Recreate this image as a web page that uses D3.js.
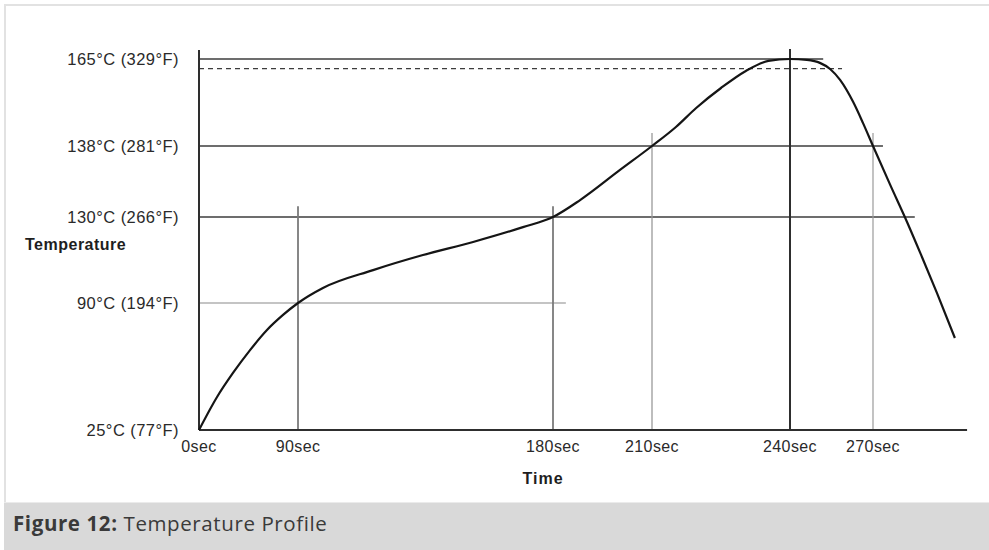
<!DOCTYPE html>
<html>
<head>
<meta charset="utf-8">
<script src="https://cdn.jsdelivr.net/npm/d3@7"></script>
<style>
  html, body { margin: 0; padding: 0; background: #ffffff; }
  svg { display: block; }
</style>
</head>
<body>
<svg id="chart" width="989" height="550"></svg>
<script>
// ---- data ----
const timeTicks = [0, 90, 180, 210, 240, 270];
const timeLabels = ["0sec", "90sec", "180sec", "210sec", "240sec", "270sec"];
const tempTicks = [25, 90, 130, 138, 165];
const tempLabels = ["25°C (77°F)", "90°C (194°F)", "130°C (266°F)", "138°C (281°F)", "165°C (329°F)"];
const dashedTemp = 162;

// temperature profile curve (seconds, °C)
const profileTime = [0, 16.4, 30.9, 46.4, 61.8, 76.4, 90, 98.8, 116.5, 134.1, 151.8, 169.4, 180, 188.2, 200.3, 210, 215.2, 219.6, 225.0, 230.4, 235.3, 240, 246.1, 250.8, 254.5, 258.1, 262.8, 266.4, 270, 276.1, 282.3, 287.7, 293.1, 299.6];
const profileTemp = [25, 41.9, 54.2, 65.9, 76.2, 83.9, 90, 97.0, 105.3, 112.3, 118.4, 125.3, 130, 131.9, 135.3, 138, 143.9, 149.8, 156.0, 161.3, 164.4, 165, 164.7, 163.8, 161.9, 158.5, 151.7, 145.1, 138, 133.7, 127.7, 111.4, 94.7, 72.1];

// reference lines: horizontal (temp, end time) and vertical (time, top temp)
const hLineTemps = [165, 138, 130, 90];
const hLineEnds = [252, 273.6, 285.1, 183.9];
const dashedEnd = 258.8;
const vLineTimes = [90, 180, 210, 240, 270];
const vLineTops = [131.2, 131.2, 142, 168.1, 142];
const axisTopTemp = 167.8;
const axisEndTime = 304;

// ---- drawing ----
const svg = d3.select("#chart");

// page frame
svg.append("rect").attr("x", 4).attr("y", 4).attr("width", 990).attr("height", 2).attr("fill", "#e2e2e2");
svg.append("rect").attr("x", 4).attr("y", 4).attr("width", 2).attr("height", 500).attr("fill", "#e2e2e2");
svg.append("rect").attr("x", 4).attr("y", 502).attr("width", 990).attr("height", 48).attr("fill", "#d9d9d9");
svg.append("rect").attr("x", 4).attr("y", 502).attr("width", 990).attr("height", 1).attr("fill", "#ebebeb");

// schematic (piecewise) scales
const x = d3.scaleLinear().domain(timeTicks).range([199, 298, 553, 652, 790, 873]);
const y = d3.scaleLinear().domain(tempTicks).range([430, 303, 217, 146, 59]);

const g = svg.append("g");

// horizontal reference lines
const hStyles = [{c: "#3c3c3c", w: 1.4}, {c: "#3c3c3c", w: 1.4}, {c: "#3c3c3c", w: 1.4}, {c: "#8a8a8a", w: 1.2}];
hLineTemps.forEach((t, i) => {
  g.append("line")
    .attr("x1", x(0)).attr("x2", x(hLineEnds[i]))
    .attr("y1", y(t)).attr("y2", y(t))
    .attr("stroke", hStyles[i].c).attr("stroke-width", hStyles[i].w);
});
g.append("line")
  .attr("x1", x(0)).attr("x2", x(dashedEnd))
  .attr("y1", y(dashedTemp)).attr("y2", y(dashedTemp))
  .attr("stroke", "#3c3c3c").attr("stroke-width", 1.3)
  .attr("stroke-dasharray", "5,4");

// vertical reference lines
const vStyles = [{c: "#7a7a7a", w: 1.8}, {c: "#7a7a7a", w: 1.8}, {c: "#9a9a9a", w: 1.3}, {c: "#2e2e2e", w: 2}, {c: "#9a9a9a", w: 1.2}];
vLineTimes.forEach((t, i) => {
  g.append("line")
    .attr("x1", x(t)).attr("x2", x(t))
    .attr("y1", y(25)).attr("y2", y(vLineTops[i]))
    .attr("stroke", vStyles[i].c).attr("stroke-width", vStyles[i].w);
});

// axes lines
g.append("line").attr("x1", x(0)).attr("x2", x(0)).attr("y1", y(25)).attr("y2", y(axisTopTemp))
  .attr("stroke", "#2e2e2e").attr("stroke-width", 2);
g.append("line").attr("x1", x(0)).attr("x2", x(axisEndTime)).attr("y1", y(25)).attr("y2", y(25))
  .attr("stroke", "#2e2e2e").attr("stroke-width", 2.2);

// curve
const pts = profileTime.map((t, i) => [t, profileTemp[i]]);
const line = d3.line().x(d => x(d[0])).y(d => y(d[1])).curve(d3.curveMonotoneX);
g.append("path").datum(pts).attr("d", line)
  .attr("fill", "none").attr("stroke", "#151515").attr("stroke-width", 2.2);

// y tick labels
const labFont = "'Liberation Sans', Arial, sans-serif";
g.selectAll(".ylab").data(tempTicks).enter().append("text")
  .attr("x", 179).attr("y", d => y(d)).attr("dy", "0.35em")
  .attr("text-anchor", "end")
  .attr("font-family", labFont).attr("font-size", 16.5).attr("letter-spacing", 0.45)
  .attr("fill", "#2a2a2a")
  .text((d, i) => tempLabels[i]);

// x tick labels
g.selectAll(".xlab").data(timeTicks).enter().append("text")
  .attr("x", d => x(d)).attr("y", 452)
  .attr("text-anchor", "middle")
  .attr("font-family", labFont).attr("font-size", 16).attr("letter-spacing", 0.4)
  .attr("fill", "#2a2a2a")
  .text((d, i) => timeLabels[i]);

// axis titles
g.append("text").attr("x", 25).attr("y", 250)
  .attr("font-family", labFont).attr("font-size", 16).attr("font-weight", "bold").attr("letter-spacing", 0.5)
  .attr("fill", "#1e1e1e").text("Temperature");
g.append("text").attr("x", 543).attr("y", 484).attr("text-anchor", "middle")
  .attr("font-family", labFont).attr("font-size", 16).attr("font-weight", "bold").attr("letter-spacing", 1.0)
  .attr("fill", "#1e1e1e").text("Time");

// caption
const cap = svg.append("text").attr("x", 13).attr("y", 531)
  .attr("font-family", "'Open Sans', 'Noto Sans', sans-serif").attr("font-size", 20.5).attr("letter-spacing", 0.6).attr("fill", "#3a3a3a");
cap.append("tspan").attr("font-weight", "bold").text("Figure 12:");
cap.append("tspan").text(" Temperature Profile");
</script>
</body>
</html>
